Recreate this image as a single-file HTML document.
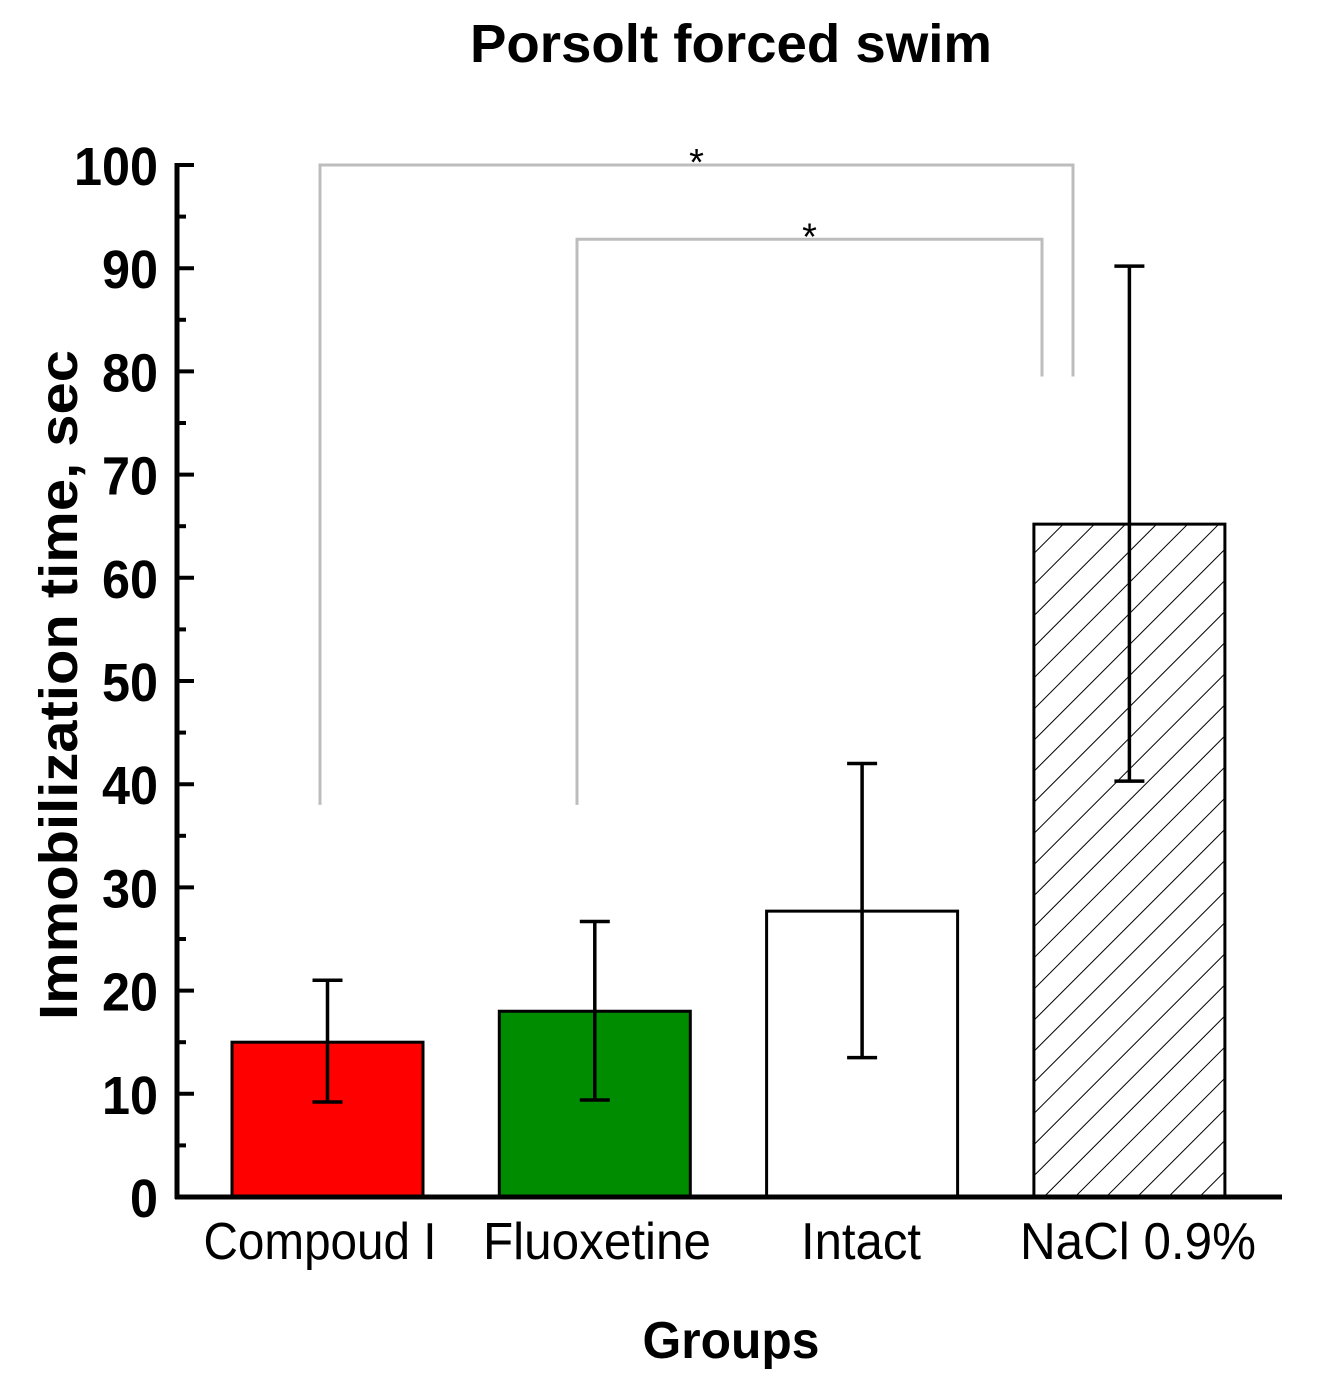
<!DOCTYPE html>
<html><head><meta charset="utf-8"><style>
html,body{margin:0;padding:0;background:#fff;}
svg{display:block;font-family:"Liberation Sans",Arial,sans-serif;}
</style></head><body>
<svg id="chart" width="1342" height="1390" viewBox="0 0 1342 1390" xmlns="http://www.w3.org/2000/svg">
<defs>
<pattern id="hatch" patternUnits="userSpaceOnUse" width="22" height="22" patternTransform="rotate(45)">
<line x1="0" y1="0" x2="0" y2="22" stroke="#000" stroke-width="2"/>
</pattern>
</defs>
<text x="731" y="62" text-anchor="middle" font-size="54" font-weight="bold" textLength="522" lengthAdjust="spacingAndGlyphs">Porsolt forced swim</text>
<text x="731" y="1358" text-anchor="middle" font-size="52" font-weight="bold" textLength="177" lengthAdjust="spacingAndGlyphs">Groups</text>
<text transform="translate(77,685) rotate(-90)" text-anchor="middle" font-size="54" font-weight="bold" textLength="670" lengthAdjust="spacingAndGlyphs">Immobilization time, sec</text>
<g id="brackets"></g>
<g id="bars"></g>
<g id="axes"></g>
</svg>
<script>
const categories = ["Compoud I", "Fluoxetine", "Intact", "NaCl 0.9%"];
const values = [15, 18, 27.7, 65.2];
const errUpper = [21, 26.7, 42, 90.2];
const errLower = [9.2, 9.4, 13.5, 40.3];
const fills = ["#ff0000", "#008c00", "#ffffff", "url(#hatch)"];
const yTicks = [0,10,20,30,40,50,60,70,80,90,100];
const brackets = [ {from:0, to:3, top:100, leftEnd:38, rightEnd:79.5}, {from:1, to:3, top:92.8, leftEnd:38, rightEnd:79.5} ];

const NS = "http://www.w3.org/2000/svg";
const y0 = 1197, y100 = 165;
const xL = 177, xR = 1282;
const y = v => y0 - (v/100)*(y0-y100);
const catCenter = i => 327.5 + i*267.3;
const barW = 191;
const labelCx = [320, 597, 861, 1138];
const labelW = [233, 228, 120, 236];
function mk(tag, attrs, parent){const e=document.createElementNS(NS,tag);for(const k in attrs)e.setAttribute(k,attrs[k]);parent.appendChild(e);return e;}

const bars = document.getElementById('bars');
categories.forEach((c,i)=>{
  const cx = catCenter(i);
  const r = mk('rect',{x:cx-barW/2,y:y(values[i]),width:barW,height:y0-y(values[i]),fill:fills[i],stroke:'#000','stroke-width':3},bars);
  
  
  const g = mk('g',{stroke:'#000','stroke-width':3.5},bars);
  
  
  mk('line',{x1:cx,x2:cx,y1:y(errUpper[i]),y2:y(errLower[i])},g);
  mk('line',{x1:cx-15,x2:cx+15,y1:y(errUpper[i]),y2:y(errUpper[i])},g);
  mk('line',{x1:cx-15,x2:cx+15,y1:y(errLower[i]),y2:y(errLower[i])},g);
  const t = mk('text',{x:labelCx[i],y:1259,'text-anchor':'middle','font-size':52,textLength:labelW[i],lengthAdjust:'spacingAndGlyphs'},bars);
  t.textContent = c;
  
  
});

const br = document.getElementById('brackets');
const brX = [[320,1073],[577,1042]];
brackets.forEach((b,k)=>{
  const xa = brX[k][0], xb = brX[k][1];
  const p = mk('polyline',{points:`${xa},${y(b.leftEnd)} ${xa},${y(b.top)} ${xb},${y(b.top)} ${xb},${y(b.rightEnd)}`,fill:'none',stroke:'#bdbdbd','stroke-width':3},br);
  
  
  const s = mk('text',{x:(xa+xb)/2,y:y(b.top)+10,'text-anchor':'middle','font-size':38},br);
  s.textContent='*';
  
  
});

const ax = document.getElementById('axes');
const yl = mk('line',{x1:xL,x2:xL,y1:y100-2,y2:y0+2,stroke:'#000','stroke-width':5},ax);


const xl = mk('line',{x1:xL-2,x2:xR,y1:y0,y2:y0,stroke:'#000','stroke-width':5},ax);


yTicks.forEach((v,i)=>{
  const tk = mk('line',{x1:xL,x2:xL+17,y1:y(v),y2:y(v),stroke:'#000','stroke-width':4},ax);
  
  
  if(i<yTicks.length-1){
    const mv=(v+yTicks[i+1])/2;
    const mt = mk('line',{x1:xL,x2:xL+9,y1:y(mv),y2:y(mv),stroke:'#000','stroke-width':4},ax);
    
    
  }
  const s = String(v);
  const t = mk('text',{x:158,y:y(v)+20,'text-anchor':'end','font-size':54,'font-weight':'bold',textLength:28*s.length,lengthAdjust:'spacingAndGlyphs'},ax);
  t.textContent = s;
  
  
});
</script>
</body></html>
